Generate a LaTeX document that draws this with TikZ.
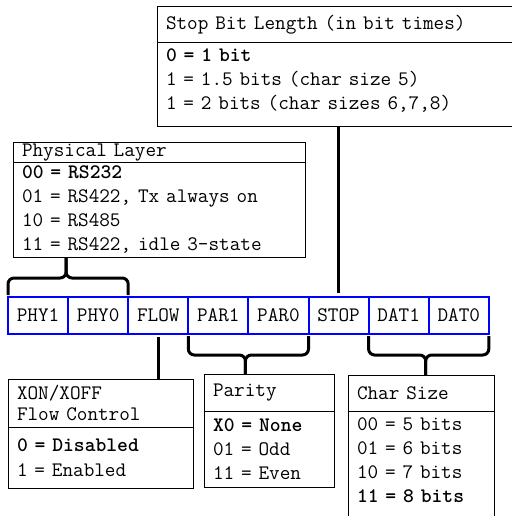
\documentclass[tikz,border=0pt]{standalone}
\usepackage{fontspec}
\newcommand{\regfont}{\ttfamily}
\newcommand{\regsize}{\fontsize{20.6bp}{24bp}\selectfont}
\newcommand{\padd}[1]{\rule[-#1]{0pt}{#1}}
\usetikzlibrary{positioning, calc}

\begin{document}
\begin{tikzpicture}[
    x=1bp, y=-1bp,
    cell/.style={draw=blue, line width=2bp, outer sep=0pt, inner sep=0pt,
                 minimum width=60.1bp, minimum height=37bp, font=\regfont\regsize},
    box/.style={draw, line width=1bp, outer sep=0pt, inner xsep=9bp, inner ysep=0pt,
                align=left, font=\regfont\regsize},
    conn/.style={line width=3bp},
    brace/.style={line width=3bp, rounded corners=6bp, shorten <=2bp},
]
\clip (0,0) rectangle (512,516);

% Register bits
\node[cell, anchor=north west] (phyA) at (8,297) {PHY1};
\node[cell, right=0pt of phyA] (phyB) {PHY0};
\node[cell, right=0pt of phyB] (flow) {FLOW};
\node[cell, right=0pt of flow] (parA) {PAR1};
\node[cell, right=0pt of parA] (parB) {PAR0};
\node[cell, right=0pt of parB] (stop) {STOP};
\node[cell, right=0pt of stop] (datA) {DAT1};
\node[cell, right=0pt of datA] (datB) {DAT0};

% Stop bit box
\node[box, anchor=north west, text width=362bp, minimum height=36bp] (stophd) at (157,7)
    {Stop Bit Length (in bit times)};
\node[box, below=0pt of stophd, text width=362bp, minimum height=84bp] (stopbd)
    {\textbf{0 = 1 bit}\\1 = 1.5 bits (char size 5)\\1 = 2 bits (char sizes 6,7,8)\padd{12.5bp}};

% Physical layer box
\node[box, anchor=north west, text width=274bp, minimum height=20bp] (phyhd) at (13,143)
    {Physical Layer};
\node[box, below=0pt of phyhd, text width=274bp, minimum height=94bp] (phybd)
    {\textbf{00 = RS232}\\01 = RS422, Tx always on\\10 = RS485\\11 = RS422, idle 3-state};

% Flow control box
\node[box, anchor=north west, text width=167bp, minimum height=48bp] (flowhd) at (8,379)
    {XON/XOFF\\[-3bp]Flow Control};
\node[box, below=0pt of flowhd, text width=167bp, minimum height=61bp] (flowbd)
    {\textbf{0 = Disabled}\\[1bp]1 = Enabled};

% Parity box
\node[box, anchor=north west, text width=112bp, minimum height=37bp] (parhd) at (204,374)
    {Parity};
\node[box, below=0pt of parhd, text width=112bp, minimum height=76bp] (parbd)
    {\textbf{X0 = None}\\01 = Odd\\11 = Even};

% Char size box
\node[box, anchor=north west, text width=128bp, minimum height=36bp] (charhd) at (348,375)
    {Char Size};
\node[box, below=0pt of charhd, text width=128bp, inner ysep=7bp] (charbd)
    {00 = 5 bits\\01 = 6 bits\\10 = 7 bits\\\textbf{11 = 8 bits}\padd{40bp}};

% Connectors
\draw[conn, shorten >=4bp] (stopbd.south -| stop.north) -- (stop.north);
\draw[conn, shorten <=3bp] (flow.south) -- (flow.south |- flowhd.north);

% Braces
\coordinate (phytip) at ($(phyA.north)!0.5!(phyB.north)+(-2,-19)$);
\draw[brace] (phyA.north west) -- (phyA.north west |- phytip) -- (phytip) -- (phytip |- phybd.south);
\draw[brace] (phyB.north east) -- (phyB.north east |- phytip) -- (phytip) -- (phytip |- phybd.south);

\coordinate (partip) at ($(parA.south)!0.5!(parB.south)+(-3,21)$);
\draw[brace] (parA.south west) -- (parA.south west |- partip) -- (partip) -- (partip |- parhd.north);
\draw[brace] (parB.south east) -- (parB.south east |- partip) -- (partip) -- (partip |- parhd.north);

\coordinate (chartip) at ($(datA.south)!0.5!(datB.south)+(-3,21)$);
\draw[brace] (datA.south west) -- (datA.south west |- chartip) -- (chartip) -- (chartip |- charhd.north);
\draw[brace] (datB.south east) -- (datB.south east |- chartip) -- (chartip) -- (chartip |- charhd.north);

\end{tikzpicture}
\end{document}
